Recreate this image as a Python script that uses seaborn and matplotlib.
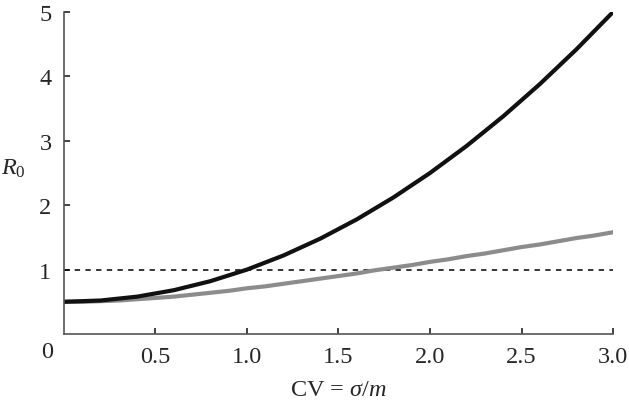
import matplotlib
matplotlib.use("Agg")
import matplotlib.pyplot as plt
import seaborn as sns
import pandas as pd

# values
cv = [0.0, 0.1, 0.2, 0.3, 0.4, 0.5, 0.6, 0.7, 0.8, 0.9, 1.0,
      1.1, 1.2, 1.3, 1.4, 1.5, 1.6, 1.7, 1.8, 1.9, 2.0,
      2.1, 2.2, 2.3, 2.4, 2.5, 2.6, 2.7, 2.8, 2.9, 3.0]
r0_black = [0.50, 0.51, 0.52, 0.55, 0.58, 0.63, 0.68, 0.75, 0.82, 0.91, 1.00,
            1.11, 1.22, 1.35, 1.48, 1.63, 1.78, 1.95, 2.12, 2.31, 2.50,
            2.71, 2.92, 3.15, 3.38, 3.63, 3.88, 4.15, 4.42, 4.71, 5.00]
r0_grey = [0.50, 0.50, 0.51, 0.52, 0.54, 0.56, 0.58, 0.61, 0.64, 0.67, 0.71,
           0.74, 0.78, 0.82, 0.86, 0.90, 0.94, 0.99, 1.03, 1.07, 1.12,
           1.16, 1.21, 1.25, 1.30, 1.35, 1.39, 1.44, 1.49, 1.53, 1.58]
threshold = 1.0
x_ticks = [0.5, 1.0, 1.5, 2.0, 2.5, 3.0]
y_ticks = [1, 2, 3, 4, 5]

df = pd.DataFrame({"cv": cv, "black": r0_black, "grey": r0_grey})

sns.set_style("ticks")
plt.rcParams["font.family"] = ["Liberation Serif", "DejaVu Serif"]
plt.rcParams["mathtext.fontset"] = "custom"
plt.rcParams["mathtext.rm"] = "Liberation Serif"
plt.rcParams["mathtext.it"] = "Liberation Serif:italic"

fig = plt.figure(figsize=(6.29, 4.06), dpi=100)
ax = fig.add_axes([0.1017, 0.1749, 0.8729, 0.7931])

ax.axhline(threshold, color="black", lw=1.1, ls=(0, (3.5, 3.5)))
sns.lineplot(data=df, x="cv", y="grey", color="#8c8c8c", lw=3, ax=ax)
sns.lineplot(data=df, x="cv", y="black", color="#111111", lw=3, ax=ax)

ax.set_xlim(0, 3)
ax.set_ylim(0, 5)
ax.set_xticks(x_ticks)
ax.set_xticklabels([f"{t:.1f}" for t in x_ticks])
ax.set_yticks(y_ticks)
ax.set_yticklabels([str(t) for t in y_ticks])
ax.tick_params(axis="both", which="major", bottom=True, left=True,
               direction="in", length=4.5, width=1.3,
               color="#333333", labelsize=17.5, pad=9)

sns.despine(ax=ax)
for side in ["left", "bottom"]:
    ax.spines[side].set_color("#555555")
    ax.spines[side].set_linewidth(1.2)

# shared origin label
ax.text(-0.031, -0.053, "0", transform=ax.transAxes, fontsize=17.5,
        ha="center", va="center")

ax.set_xlabel(r"CV = $\sigma$/$m$", fontsize=17.5, labelpad=8)
ax.set_ylabel(r"$R_0$", fontsize=17.5, rotation=0, va="center", ha="center")
ax.yaxis.set_label_coords(-0.093, 0.515)

fig.savefig("out.png", dpi=100)
